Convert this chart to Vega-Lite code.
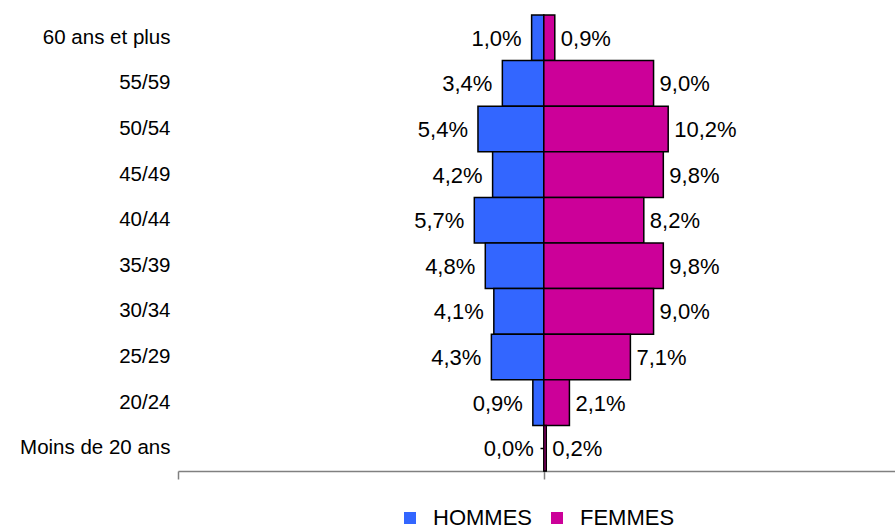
{
  "$schema": "https://vega.github.io/schema/vega-lite/v6.json",
  "width": 717,
  "height": 456,
  "autosize": {"type": "none"},
  "padding": {"left": 178, "top": 15, "right": 0, "bottom": 58},
  "background": "white",
  "config": {"font": "Liberation Sans", "view": {"stroke": null}},
  "data": {
    "values": [
      {"age": "60 ans et plus", "sexe": "HOMMES", "valeur": -1.0, "label": "1,0%"},
      {"age": "60 ans et plus", "sexe": "FEMMES", "valeur": 0.9, "label": "0,9%"},
      {"age": "55/59", "sexe": "HOMMES", "valeur": -3.4, "label": "3,4%"},
      {"age": "55/59", "sexe": "FEMMES", "valeur": 9.0, "label": "9,0%"},
      {"age": "50/54", "sexe": "HOMMES", "valeur": -5.4, "label": "5,4%"},
      {"age": "50/54", "sexe": "FEMMES", "valeur": 10.2, "label": "10,2%"},
      {"age": "45/49", "sexe": "HOMMES", "valeur": -4.2, "label": "4,2%"},
      {"age": "45/49", "sexe": "FEMMES", "valeur": 9.8, "label": "9,8%"},
      {"age": "40/44", "sexe": "HOMMES", "valeur": -5.7, "label": "5,7%"},
      {"age": "40/44", "sexe": "FEMMES", "valeur": 8.2, "label": "8,2%"},
      {"age": "35/39", "sexe": "HOMMES", "valeur": -4.8, "label": "4,8%"},
      {"age": "35/39", "sexe": "FEMMES", "valeur": 9.8, "label": "9,8%"},
      {"age": "30/34", "sexe": "HOMMES", "valeur": -4.1, "label": "4,1%"},
      {"age": "30/34", "sexe": "FEMMES", "valeur": 9.0, "label": "9,0%"},
      {"age": "25/29", "sexe": "HOMMES", "valeur": -4.3, "label": "4,3%"},
      {"age": "25/29", "sexe": "FEMMES", "valeur": 7.1, "label": "7,1%"},
      {"age": "20/24", "sexe": "HOMMES", "valeur": -0.9, "label": "0,9%"},
      {"age": "20/24", "sexe": "FEMMES", "valeur": 2.1, "label": "2,1%"},
      {"age": "Moins de 20 ans", "sexe": "HOMMES", "valeur": 0.0, "label": "0,0%"},
      {"age": "Moins de 20 ans", "sexe": "FEMMES", "valeur": 0.2, "label": "0,2%"}
    ]
  },
  "encoding": {
    "y": {
      "field": "age",
      "type": "nominal",
      "sort": ["60 ans et plus", "55/59", "50/54", "45/49", "40/44", "35/39", "30/34", "25/29", "20/24", "Moins de 20 ans"],
      "scale": {"paddingInner": 0, "paddingOuter": 0}
    },
    "x": {
      "field": "valeur",
      "type": "quantitative",
      "scale": {"domain": [-30, 28.8], "nice": false, "zero": false}
    }
  },
  "layer": [
    {
      "mark": {"type": "bar", "stroke": "black", "strokeWidth": 1.5},
      "encoding": {
        "y": {
          "field": "age",
          "type": "nominal",
          "sort": ["60 ans et plus", "55/59", "50/54", "45/49", "40/44", "35/39", "30/34", "25/29", "20/24", "Moins de 20 ans"],
          "scale": {"paddingInner": 0, "paddingOuter": 0},
          "axis": {"title": null, "orient": "left", "ticks": false, "domain": false, "labelPadding": 8, "labelFontSize": 20.5, "labelColor": "black", "labelFont": "Liberation Sans"}
        },
        "x": {
          "field": "valeur",
          "type": "quantitative",
          "scale": {"domain": [-30, 28.8], "nice": false, "zero": false},
          "axis": {"title": null, "values": [-30, 0], "labels": false, "grid": false, "ticks": true, "tickSize": 8, "tickColor": "#808080", "domainColor": "#808080", "domainWidth": 1.5, "tickWidth": 1.5}
        },
        "color": {
          "field": "sexe",
          "type": "nominal",
          "scale": {"domain": ["HOMMES", "FEMMES"], "range": ["#3366FF", "#CC0099"]},
          "legend": {
            "title": null,
            "orient": "none",
            "legendX": 221,
            "legendY": 492,
            "direction": "horizontal",
            "symbolType": "square",
            "symbolSize": 144,
            "symbolStrokeColor": "black",
            "symbolStrokeWidth": 1.5,
            "symbolOpacity": 1,
            "labelFontSize": 22,
            "labelColor": "black",
            "labelFont": "Liberation Sans",
            "labelOffset": 12,
            "columnPadding": 14,
            "padding": 0,
            "encode": {"symbols": {"update": {"fill": [{"test": "datum.value === 'HOMMES'", "value": "#0066CC"}, {"value": "#CC0099"}]}}}
          }
        }
      }
    },
    {
      "transform": [{"filter": "datum.sexe === 'HOMMES'"}],
      "mark": {"type": "text", "align": "right", "baseline": "middle", "dx": -10, "dy": 1, "fontSize": 22, "color": "black", "font": "Liberation Sans"},
      "encoding": {
        "text": {"field": "label"},
        "y": {
          "field": "age",
          "type": "nominal",
          "sort": ["60 ans et plus", "55/59", "50/54", "45/49", "40/44", "35/39", "30/34", "25/29", "20/24", "Moins de 20 ans"],
          "scale": {"paddingInner": 0, "paddingOuter": 0},
          "axis": {"title": null, "orient": "left", "offset": -366, "labels": false, "domain": true, "domainColor": "black", "domainWidth": 2, "ticks": true, "tickSize": 4, "tickColor": "black", "tickWidth": 1.5}
        }
      }
    },
    {
      "transform": [{"filter": "datum.sexe === 'FEMMES'"}],
      "mark": {"type": "text", "align": "left", "baseline": "middle", "dx": 6, "dy": 1, "fontSize": 22, "color": "black", "font": "Liberation Sans"},
      "encoding": {
        "text": {"field": "label"},
        "y": {
          "field": "age",
          "type": "nominal",
          "sort": ["60 ans et plus", "55/59", "50/54", "45/49", "40/44", "35/39", "30/34", "25/29", "20/24", "Moins de 20 ans"],
          "scale": {"paddingInner": 0, "paddingOuter": 0},
          "axis": null
        }
      }
    }
  ],
  "resolve": {"axis": {"y": "independent"}}
}
